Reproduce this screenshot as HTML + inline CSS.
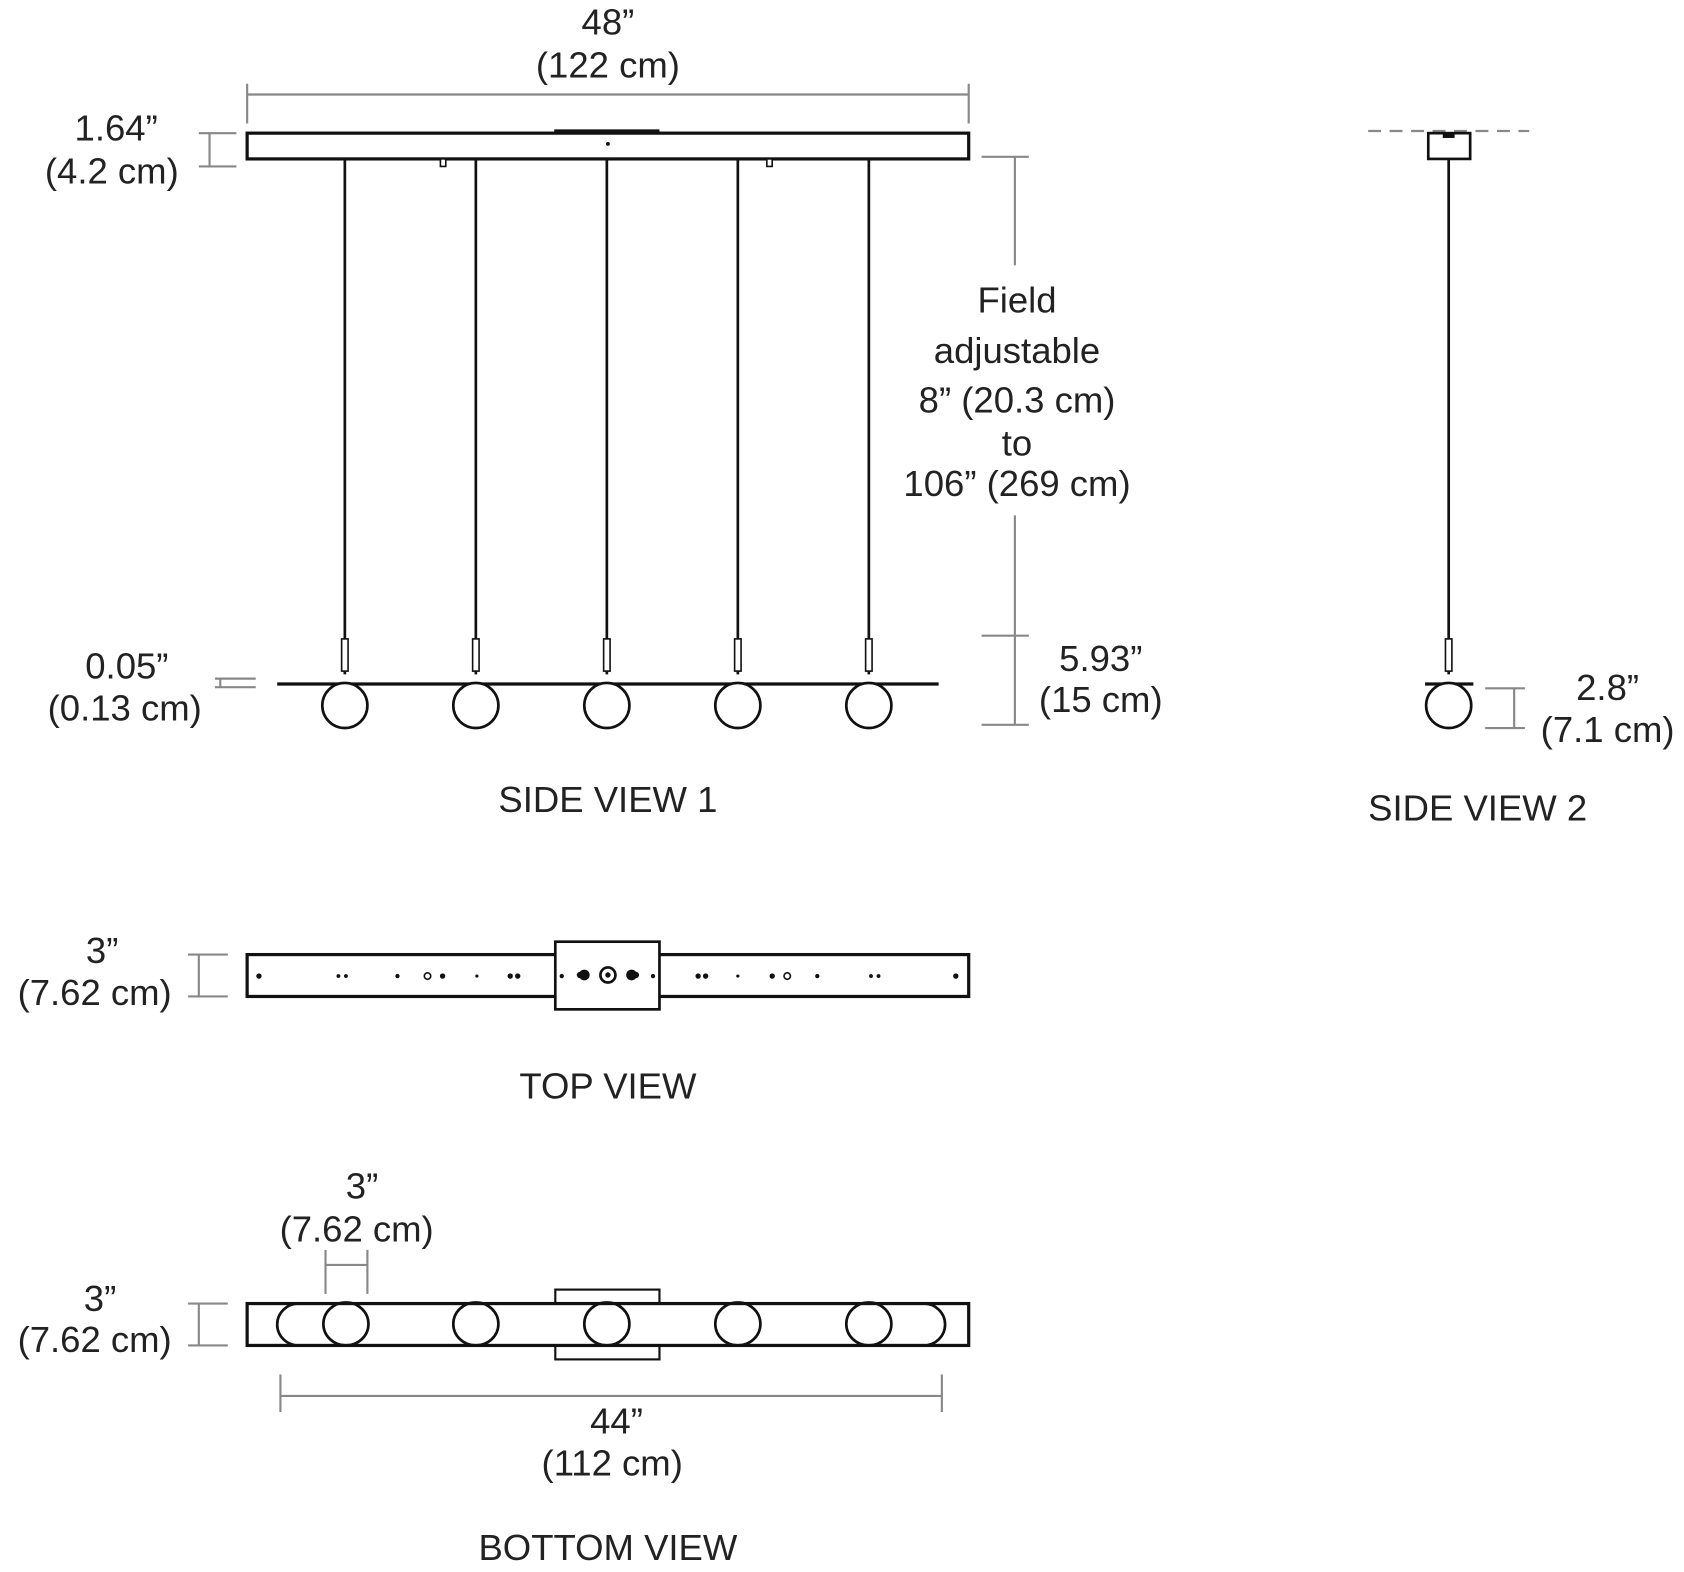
<!DOCTYPE html>
<html><head><meta charset="utf-8"><style>
html,body{margin:0;padding:0;background:#fff;}
svg{display:block;}
text{font-family:"Liberation Sans",sans-serif;fill:#222;text-anchor:middle;}
</style></head><body>
<svg width="1684" height="1572" viewBox="0 0 1568 1464" xmlns="http://www.w3.org/2000/svg">
<g font-size="34">
<g stroke="#888" stroke-width="2" fill="none">
<line x1="230" y1="88" x2="902" y2="88"/><line x1="230" y1="78" x2="230" y2="115"/><line x1="902" y1="78" x2="902" y2="115"/>
<line x1="185" y1="124" x2="220" y2="124"/><line x1="185" y1="155" x2="220" y2="155"/><line x1="195" y1="124" x2="195" y2="155"/>
<line x1="945" y1="146" x2="945" y2="247"/><line x1="945" y1="480" x2="945" y2="675"/>
<line x1="914" y1="146" x2="958" y2="146"/><line x1="914" y1="592" x2="958" y2="592"/><line x1="914" y1="675" x2="958" y2="675"/>
<line x1="200" y1="632" x2="238" y2="632"/><line x1="200" y1="640" x2="238" y2="640"/><line x1="205" y1="632" x2="205" y2="640"/>
<line x1="1274" y1="122" x2="1424" y2="122" stroke-dasharray="12,8"/>
<line x1="1383" y1="641" x2="1420" y2="641"/><line x1="1383" y1="678" x2="1420" y2="678"/><line x1="1410" y1="641" x2="1410" y2="678"/>
<line x1="175" y1="889" x2="212" y2="889"/><line x1="175" y1="928" x2="212" y2="928"/><line x1="185" y1="889" x2="185" y2="928"/>
<line x1="175" y1="1214" x2="212" y2="1214"/><line x1="175" y1="1253" x2="212" y2="1253"/><line x1="185" y1="1214" x2="185" y2="1253"/>
<line x1="303" y1="1164" x2="303" y2="1205"/><line x1="342" y1="1164" x2="342" y2="1205"/><line x1="303" y1="1178" x2="342" y2="1178"/>
<line x1="261" y1="1300" x2="877" y2="1300"/><line x1="261" y1="1280" x2="261" y2="1315"/><line x1="877" y1="1280" x2="877" y2="1315"/>
</g>
<text x="566" y="32">48”</text><text x="566" y="72">(122 cm)</text>
<text x="108" y="131">1.64”</text><text x="104" y="171">(4.2 cm)</text>
<text x="947" y="291">Field</text><text x="947" y="338">adjustable</text>
<text x="947" y="384">8” (20.3 cm)</text><text x="947" y="424">to</text><text x="947" y="462">106” (269 cm)</text>
<text x="1025" y="625">5.93”</text><text x="1025" y="663">(15 cm)</text>
<text x="118" y="632">0.05”</text><text x="116" y="671">(0.13 cm)</text>
<text x="566" y="756">SIDE VIEW 1</text>
<text x="1497" y="652">2.8”</text><text x="1497" y="691">(7.1 cm)</text>
<text x="1376" y="764">SIDE VIEW 2</text>
<text x="95" y="897">3”</text><text x="88" y="936">(7.62 cm)</text>
<text x="566" y="1023">TOP VIEW</text>
<text x="337" y="1116">3”</text><text x="332" y="1156">(7.62 cm)</text>
<text x="93" y="1221">3”</text><text x="88" y="1259">(7.62 cm)</text>
<text x="574" y="1335">44”</text><text x="570" y="1374">(112 cm)</text>
<text x="566" y="1453">BOTTOM VIEW</text>
</g>
<g stroke="#111" fill="none">
<rect x="230" y="124" width="672" height="24" stroke-width="3"/>
<line x1="516" y1="122" x2="614" y2="122" stroke-width="3"/>
<g stroke-width="2.5">
<line x1="321" y1="148" x2="321" y2="628"/><line x1="443" y1="148" x2="443" y2="628"/><line x1="565" y1="148" x2="565" y2="628"/><line x1="687" y1="148" x2="687" y2="628"/><line x1="809" y1="148" x2="809" y2="628"/>
</g>
<g stroke-width="1.5" fill="#fff">
<rect x="318" y="595" width="6" height="30"/><rect x="440" y="595" width="6" height="30"/><rect x="562" y="595" width="6" height="30"/><rect x="684" y="595" width="6" height="30"/><rect x="806" y="595" width="6" height="30"/>
<rect x="410" y="148" width="5" height="7"/><rect x="714" y="148" width="5" height="7"/>
</g>
<line x1="258" y1="637" x2="874" y2="637" stroke-width="3"/>
<g stroke-width="2.5" fill="#fff">
<circle cx="321" cy="657" r="21"/><circle cx="443" cy="657" r="21"/><circle cx="565" cy="657" r="21"/><circle cx="687" cy="657" r="21"/><circle cx="809" cy="657" r="21"/>
</g>
<rect x="1330" y="124" width="39" height="24" stroke-width="2.5"/>
<rect x="1344" y="124" width="10" height="4" fill="#111"/>
<line x1="1349" y1="148" x2="1349" y2="628" stroke-width="2.5"/>
<rect x="1346" y="595" width="6" height="30" stroke-width="1.5" fill="#fff"/>
<line x1="1327" y1="637" x2="1372" y2="637" stroke-width="3"/>
<circle cx="1349" cy="657" r="21" stroke-width="2.5" fill="#fff"/>
<rect x="230" y="889" width="672" height="39" stroke-width="3"/>
<rect x="517" y="877" width="97" height="63" stroke-width="2.5" fill="#fff"/>
<circle cx="566" cy="908" r="7" stroke-width="2.5"/>
<circle cx="398" cy="909" r="3" stroke-width="1.5"/><circle cx="733" cy="909" r="3" stroke-width="1.5"/>
<rect x="517" y="1201" width="97" height="65" stroke-width="2"/>
<rect x="230" y="1214" width="672" height="39" stroke-width="3" fill="#fff"/>
<rect x="258" y="1214" width="622" height="39" rx="20" stroke-width="2.5"/>
<g stroke-width="2.5">
<ellipse cx="322" cy="1233" rx="21" ry="20"/><ellipse cx="443" cy="1233" rx="21" ry="20"/><ellipse cx="565" cy="1233" rx="21" ry="20"/><ellipse cx="687" cy="1233" rx="21" ry="20"/><ellipse cx="809" cy="1233" rx="21" ry="20"/>
</g>
</g>
<g fill="#111">
<circle cx="566" cy="134" r="1.8"/>
<circle cx="566" cy="908" r="2.5"/>
<circle cx="241" cy="909" r="2.5"/><circle cx="315" cy="909" r="1.8"/><circle cx="322" cy="909" r="1.8"/><circle cx="370" cy="909" r="2"/>
<circle cx="412" cy="909" r="2.5"/><circle cx="444" cy="909" r="1.5"/><circle cx="475" cy="909" r="2.5"/><circle cx="482" cy="909" r="2.5"/>
<circle cx="523" cy="909" r="2"/><circle cx="608" cy="909" r="2"/>
<circle cx="544" cy="908" r="5"/><circle cx="588" cy="908" r="5"/><circle cx="540" cy="908" r="3"/><circle cx="592" cy="908" r="3"/>
<circle cx="650" cy="909" r="2.5"/><circle cx="657" cy="909" r="2.5"/><circle cx="687" cy="909" r="1.5"/><circle cx="719" cy="909" r="2.5"/>
<circle cx="761" cy="909" r="2"/><circle cx="811" cy="909" r="1.8"/><circle cx="818" cy="909" r="1.8"/><circle cx="890" cy="909" r="2.5"/>
</g>
</svg>
</body></html>
